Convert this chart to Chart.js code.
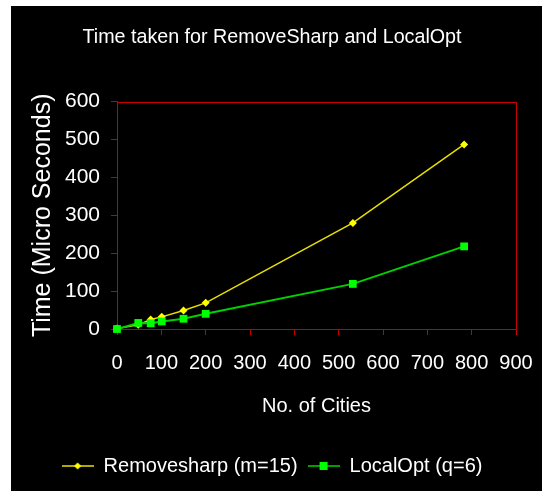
<!DOCTYPE html>
<html>
<head>
<meta charset="utf-8">
<script src="https://cdn.jsdelivr.net/npm/chart.js@4/dist/chart.umd.min.js"></script>
<style>
  body { margin: 0; background: #ffffff; }
  #timechart { position: absolute; left: 11px; top: 6px; background: #000000; }
</style>
</head>
<body>
<canvas id="timechart" width="531" height="485"></canvas>
<script>
// number of cities in each test instance
var cities = [0, 48, 76, 101, 150, 200, 532, 783];
// run times in micro seconds
var removeSharp = [1, 11, 25, 32, 49, 69, 280, 487];
var localOpt = [0, 16, 15, 20, 27, 40, 119, 218];

var xTicks = [0, 100, 200, 300, 400, 500, 600, 700, 800, 900];
var yTicks = [0, 100, 200, 300, 400, 500, 600];

var fontName = "'Liberation Sans', Arial, sans-serif";
var axisRed = '#c80000';

function toPoints(xs, ys) {
    var pts = [];
    for (var i = 0; i < xs.length; i++) {
        pts.push({x: xs[i], y: ys[i]});
    }
    return pts;
}

// small line + marker picture used as the legend symbol
function legendSymbol(lineColor, markColor, shape) {
    var c = document.createElement('canvas');
    c.width = 32;
    c.height = 10;
    var g = c.getContext('2d');
    g.strokeStyle = lineColor;
    g.lineWidth = 1.5;
    g.beginPath();
    g.moveTo(0, 5);
    g.lineTo(32, 5);
    g.stroke();
    g.fillStyle = markColor;
    if (shape == 'rect') {
        g.fillRect(12, 1, 8, 8);
    } else {
        g.beginPath();
        g.moveTo(16, 1.5);
        g.lineTo(19.5, 5);
        g.lineTo(16, 8.5);
        g.lineTo(12.5, 5);
        g.closePath();
        g.fill();
    }
    return c;
}

// red frame around the plotting area
var plotBorder = {
    id: 'plotBorder',
    beforeDatasetsDraw: function(chart) {
        var a = chart.chartArea;
        var ctx = chart.ctx;
        ctx.save();
        ctx.strokeStyle = axisRed;
        ctx.lineWidth = 1;
        ctx.strokeRect(Math.round(a.left) + 0.5, Math.round(a.top) + 0.5,
            Math.round(a.right - a.left), Math.round(a.bottom - a.top));
        ctx.restore();
    }
};

var chartdata = {
    datasets: [
        {
            label: 'Removesharp (m=15)',
            data: toPoints(cities, removeSharp),
            borderColor: '#e8e000',
            borderWidth: 1.5,
            pointStyle: 'rectRot',
            pointRadius: 4,
            pointBackgroundColor: '#ffff00',
            pointBorderWidth: 0,
            clip: false,
            order: 1
        },
        {
            label: 'LocalOpt (q=6)',
            data: toPoints(cities, localOpt),
            borderColor: '#00d000',
            borderWidth: 2,
            pointStyle: 'rect',
            pointRadius: 5.5,
            pointBackgroundColor: '#00ff00',
            pointBorderWidth: 0,
            clip: false,
            order: 0
        }
    ]
};

var symbols = [
    legendSymbol('#e8e000', '#ffff00', 'rectRot'),
    legendSymbol('#00d000', '#00ff00', 'rect')
];

var ctx = document.getElementById('timechart');
var timeChart = new Chart(ctx, {
    type: 'line',
    data: chartdata,
    plugins: [plotBorder],
    options: {
        responsive: false,
        animation: false,
        events: [],
        layout: { padding: { left: 17, right: 26, top: 0, bottom: 5 } },
        plugins: {
            title: {
                display: true,
                text: 'Time taken for RemoveSharp and LocalOpt',
                color: '#ffffff',
                font: { family: fontName, size: 19.7, weight: 'normal', lineHeight: 1.2 },
                padding: { top: 20, bottom: 52 }
            },
            legend: {
                position: 'bottom',
                labels: {
                    color: '#ffffff',
                    font: { family: fontName, size: 20 },
                    usePointStyle: true,
                    pointStyleWidth: 32,
                    padding: 10,
                    generateLabels: function(chart) {
                        return chart.data.datasets.map(function(ds, i) {
                            return {
                                text: ds.label,
                                pointStyle: symbols[i],
                                fontColor: '#ffffff',
                                lineWidth: 0,
                                datasetIndex: i
                            };
                        });
                    }
                }
            },
            tooltip: { enabled: false }
        },
        scales: {
            x: {
                type: 'linear',
                min: 0,
                max: 900,
                afterBuildTicks: function(scale) {
                    scale.ticks = xTicks.map(function(v) { return {value: v}; });
                },
                afterFit: function(scale) { scale.height = 117; },
                grid: { drawOnChartArea: false, color: axisRed, tickLength: 6 },
                border: { color: axisRed },
                ticks: {
                    color: '#ffffff',
                    // tall line box pushes the labels down without widening the side padding
                    font: { family: fontName, size: 20, lineHeight: 2.8 },
                    padding: 0,
                    maxRotation: 0
                },
                title: {
                    display: true,
                    text: 'No. of Cities',
                    color: '#ffffff',
                    font: { family: fontName, size: 20 },
                    padding: { top: 0, bottom: 28 }
                }
            },
            y: {
                min: 0,
                max: 600,
                afterBuildTicks: function(scale) {
                    scale.ticks = yTicks.map(function(v) { return {value: v}; });
                },
                afterFit: function(scale) { scale.width = 89; },
                grid: { drawOnChartArea: false, color: axisRed, tickLength: 6 },
                border: { color: axisRed },
                ticks: {
                    color: '#ffffff',
                    font: { family: fontName, size: 21 },
                    padding: 11
                },
                title: {
                    display: true,
                    text: 'Time (Micro Seconds)',
                    color: '#ffffff',
                    font: { family: fontName, size: 25 },
                    padding: { top: 0, bottom: 0 }
                }
            }
        }
    }
});
</script>
</body>
</html>
